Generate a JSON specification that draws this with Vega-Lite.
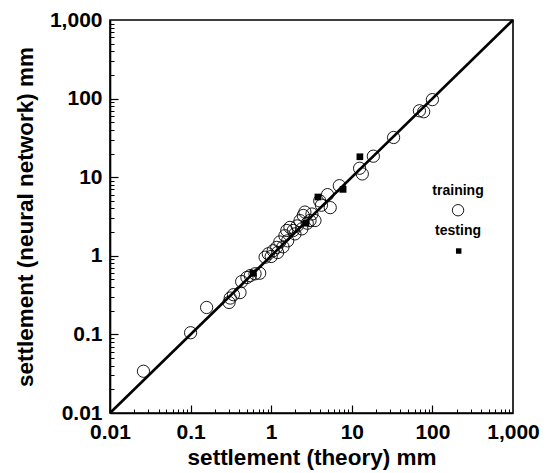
{
  "$schema": "https://vega.github.io/schema/vega-lite/v6.json",
  "autosize": "none",
  "width": 403,
  "height": 393,
  "padding": {"left": 110, "top": 20, "right": 33, "bottom": 60},
  "background": "white",
  "config": {
    "view": {"stroke": "black", "strokeWidth": 1.6},
    "font": "Liberation Sans",
    "axis": {"domainColor": "black", "domainWidth": 1.6, "tickColor": "black", "grid": false}
  },
  "datasets": {
    "pts": [
      {"theory": 0.026, "nn": 0.034, "set": "training"},
      {"theory": 0.10, "nn": 0.105, "set": "training"},
      {"theory": 0.158, "nn": 0.22, "set": "training"},
      {"theory": 0.30, "nn": 0.255, "set": "training"},
      {"theory": 0.31, "nn": 0.29, "set": "training"},
      {"theory": 0.34, "nn": 0.32, "set": "training"},
      {"theory": 0.41, "nn": 0.34, "set": "training"},
      {"theory": 0.43, "nn": 0.47, "set": "training"},
      {"theory": 0.50, "nn": 0.53, "set": "training"},
      {"theory": 0.55, "nn": 0.56, "set": "training"},
      {"theory": 0.63, "nn": 0.59, "set": "training"},
      {"theory": 0.72, "nn": 0.60, "set": "training"},
      {"theory": 0.84, "nn": 0.96, "set": "training"},
      {"theory": 0.92, "nn": 1.06, "set": "training"},
      {"theory": 1.0, "nn": 0.98, "set": "training"},
      {"theory": 1.06, "nn": 1.16, "set": "training"},
      {"theory": 1.17, "nn": 1.28, "set": "training"},
      {"theory": 1.2, "nn": 1.1, "set": "training"},
      {"theory": 1.28, "nn": 1.5, "set": "training"},
      {"theory": 1.4, "nn": 1.3, "set": "training"},
      {"theory": 1.48, "nn": 1.8, "set": "training"},
      {"theory": 1.56, "nn": 2.1, "set": "training"},
      {"theory": 1.6, "nn": 1.55, "set": "training"},
      {"theory": 1.71, "nn": 2.3, "set": "training"},
      {"theory": 1.88, "nn": 2.1, "set": "training"},
      {"theory": 1.97, "nn": 1.9, "set": "training"},
      {"theory": 2.1, "nn": 2.4, "set": "training"},
      {"theory": 2.28, "nn": 2.8, "set": "training"},
      {"theory": 2.4, "nn": 2.2, "set": "training"},
      {"theory": 2.5, "nn": 3.26, "set": "training"},
      {"theory": 2.62, "nn": 3.6, "set": "training"},
      {"theory": 2.8, "nn": 2.6, "set": "training"},
      {"theory": 3.03, "nn": 2.81, "set": "training"},
      {"theory": 3.2, "nn": 3.4, "set": "training"},
      {"theory": 3.49, "nn": 2.81, "set": "training"},
      {"theory": 4.0, "nn": 5.0, "set": "training"},
      {"theory": 4.2, "nn": 4.4, "set": "training"},
      {"theory": 5.0, "nn": 6.0, "set": "training"},
      {"theory": 5.4, "nn": 4.1, "set": "training"},
      {"theory": 7.0, "nn": 7.8, "set": "training"},
      {"theory": 12.5, "nn": 13, "set": "training"},
      {"theory": 13.5, "nn": 11, "set": "training"},
      {"theory": 18.5, "nn": 18.5, "set": "training"},
      {"theory": 33, "nn": 32, "set": "training"},
      {"theory": 69, "nn": 70, "set": "training"},
      {"theory": 78, "nn": 68, "set": "training"},
      {"theory": 100, "nn": 97, "set": "training"},
      {"theory": 0.6, "nn": 0.6, "set": "testing"},
      {"theory": 2.7, "nn": 2.6, "set": "testing"},
      {"theory": 3.8, "nn": 5.6, "set": "testing"},
      {"theory": 7.8, "nn": 7.0, "set": "testing"},
      {"theory": 12.6, "nn": 18.2, "set": "testing"}
    ],
    "diag": [{"v": 0.01}, {"v": 1000}],
    "keysym": [
      {"theory": 208, "nn": 3.8, "set": "training"},
      {"theory": 212, "nn": 1.15, "set": "testing"}
    ],
    "keytext": [
      {"theory": 208, "nn": 6.6, "label": "training"},
      {"theory": 208, "nn": 2.05, "label": "testing"}
    ]
  },
  "resolve": {"axis": {"x": "independent", "y": "independent"}},
  "layer": [
    {
      "data": {"name": "diag"},
      "mark": {"type": "line", "color": "black", "strokeWidth": 2.6},
      "encoding": {
        "x": {"field": "v", "type": "quantitative",
              "scale": {"type": "log", "domain": [0.01, 1000], "nice": false},
              "axis": {"orient": "bottom", "values": [0.01, 0.1, 1, 10, 100, 1000], "format": ",",
                       "ticks": false, "labelPadding": 8, "labelFontSize": 21, "labelFontWeight": "bold",
                       "labelColor": "black", "labelFlush": false, "labelOverlap": false,
                       "title": "settlement (theory) mm", "titleFontSize": 22.5, "titleFontWeight": "bold", "titleColor": "black", "titlePadding": 4}},
        "y": {"field": "v", "type": "quantitative",
              "scale": {"type": "log", "domain": [0.01, 1000], "nice": false},
              "axis": {"orient": "left", "values": [0.01, 0.1, 1, 10, 100, 1000], "format": ",",
                       "ticks": false, "labelPadding": 8, "labelFontSize": 21, "labelFontWeight": "bold",
                       "labelColor": "black", "labelFlush": false, "labelOverlap": false,
                       "title": "settlement (neural network) mm", "titleFontSize": 22.5, "titleFontWeight": "bold", "titleColor": "black", "titlePadding": 12}}
      }
    },
    {
      "data": {"name": "pts"},
      "transform": [{"filter": "datum.set === 'training'"}],
      "mark": {"type": "point", "shape": "circle", "filled": false, "color": "black", "strokeWidth": 0.9, "size": 150, "opacity": 1},
      "encoding": {
        "x": {"field": "theory", "type": "quantitative",
              "axis": {"orient": "bottom", "offset": -4, "values": [0.02,0.03,0.04,0.05,0.06,0.07,0.08,0.09,0.2,0.3,0.4,0.5,0.6,0.7,0.8,0.9,2,3,4,5,6,7,8,9,20,30,40,50,60,70,80,90,200,300,400,500,600,700,800,900],
                       "labels": false, "domain": false, "ticks": true, "tickSize": 4, "tickWidth": 1, "title": null}},
        "y": {"field": "nn", "type": "quantitative",
              "axis": {"orient": "left", "offset": -4, "values": [0.02,0.03,0.04,0.05,0.06,0.07,0.08,0.09,0.2,0.3,0.4,0.5,0.6,0.7,0.8,0.9,2,3,4,5,6,7,8,9,20,30,40,50,60,70,80,90,200,300,400,500,600,700,800,900],
                       "labels": false, "domain": false, "ticks": true, "tickSize": 4, "tickWidth": 1, "title": null}}
      }
    },
    {
      "data": {"name": "pts"},
      "transform": [{"filter": "datum.set === 'testing'"}],
      "mark": {"type": "square", "filled": true, "color": "black", "size": 45, "opacity": 1},
      "encoding": {
        "x": {"field": "theory", "type": "quantitative",
              "axis": {"orient": "bottom", "offset": -8, "values": [0.1, 1, 10, 100],
                       "labels": false, "domain": false, "ticks": true, "tickSize": 8, "tickWidth": 1.2, "title": null}},
        "y": {"field": "nn", "type": "quantitative",
              "axis": {"orient": "left", "offset": -8, "values": [0.1, 1, 10, 100],
                       "labels": false, "domain": false, "ticks": true, "tickSize": 8, "tickWidth": 1.2, "title": null}}
      }
    },
    {
      "data": {"name": "keysym"},
      "transform": [{"filter": "datum.set === 'training'"}],
      "mark": {"type": "point", "shape": "circle", "filled": false, "color": "black", "strokeWidth": 0.9, "size": 130, "opacity": 1},
      "encoding": {
        "x": {"field": "theory", "type": "quantitative", "axis": null},
        "y": {"field": "nn", "type": "quantitative", "axis": null}
      }
    },
    {
      "data": {"name": "keysym"},
      "transform": [{"filter": "datum.set === 'testing'"}],
      "mark": {"type": "square", "filled": true, "color": "black", "size": 30, "opacity": 1},
      "encoding": {
        "x": {"field": "theory", "type": "quantitative", "axis": null},
        "y": {"field": "nn", "type": "quantitative", "axis": null}
      }
    },
    {
      "data": {"name": "keytext"},
      "mark": {"type": "text", "fontSize": 14, "fontWeight": "bold", "color": "black", "align": "center", "baseline": "middle"},
      "encoding": {
        "x": {"field": "theory", "type": "quantitative", "axis": null},
        "y": {"field": "nn", "type": "quantitative", "axis": null},
        "text": {"field": "label"}
      }
    }
  ]
}
